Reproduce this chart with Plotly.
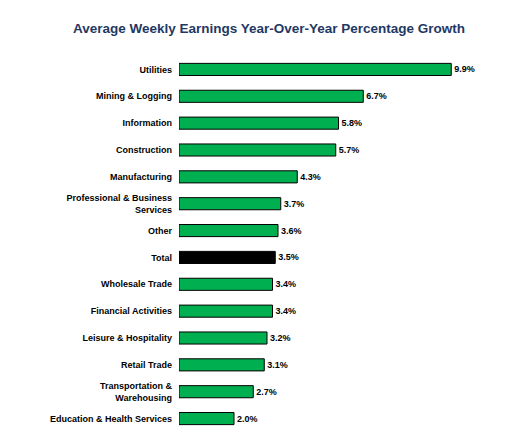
import plotly.graph_objects as go

categories = ["Utilities", "Mining & Logging", "Information", "Construction", "Manufacturing",
              "Professional & Business<br>Services", "Other", "Total", "Wholesale Trade",
              "Financial Activities", "Leisure & Hospitality", "Retail Trade",
              "Transportation &<br>Warehousing", "Education & Health Services"]
values = [9.9, 6.7, 5.8, 5.7, 4.3, 3.7, 3.6, 3.5, 3.4, 3.4, 3.2, 3.1, 2.7, 2.0]
labels = [f"{v:.1f}%" for v in values]
colors = ["#000000" if c == "Total" else "#00B050" for c in categories]

fig = go.Figure(go.Bar(
    x=values, y=categories, orientation="h",
    marker=dict(color=colors, line=dict(color="black", width=1)),
    text=labels, textposition="outside", cliponaxis=False,
    textfont=dict(family="Arial, Liberation Sans", size=9, color="black", weight="bold"),
))
fig.update_layout(
    width=522, height=445,
    margin=dict(l=171, r=21, t=48, b=21),
    paper_bgcolor="white", plot_bgcolor="white",
    title=dict(text="<b>Average Weekly Earnings Year-Over-Year Percentage Growth</b>",
               x=0.5, xanchor="center", y=1 - 20 / 445, yanchor="middle", yref="container",
               font=dict(family="Arial, Liberation Sans", size=13.5, color="#1F3864")),
    bargap=0.55, showlegend=False,
    xaxis=dict(range=[0, 12], visible=False, automargin=False),
    yaxis=dict(autorange="reversed", showgrid=False, showline=False, ticks="",
               ticklabelstandoff=6, automargin=False,
               tickfont=dict(family="Arial, Liberation Sans", size=9, color="black", weight="bold")),
)
fig.write_html("out.html")
